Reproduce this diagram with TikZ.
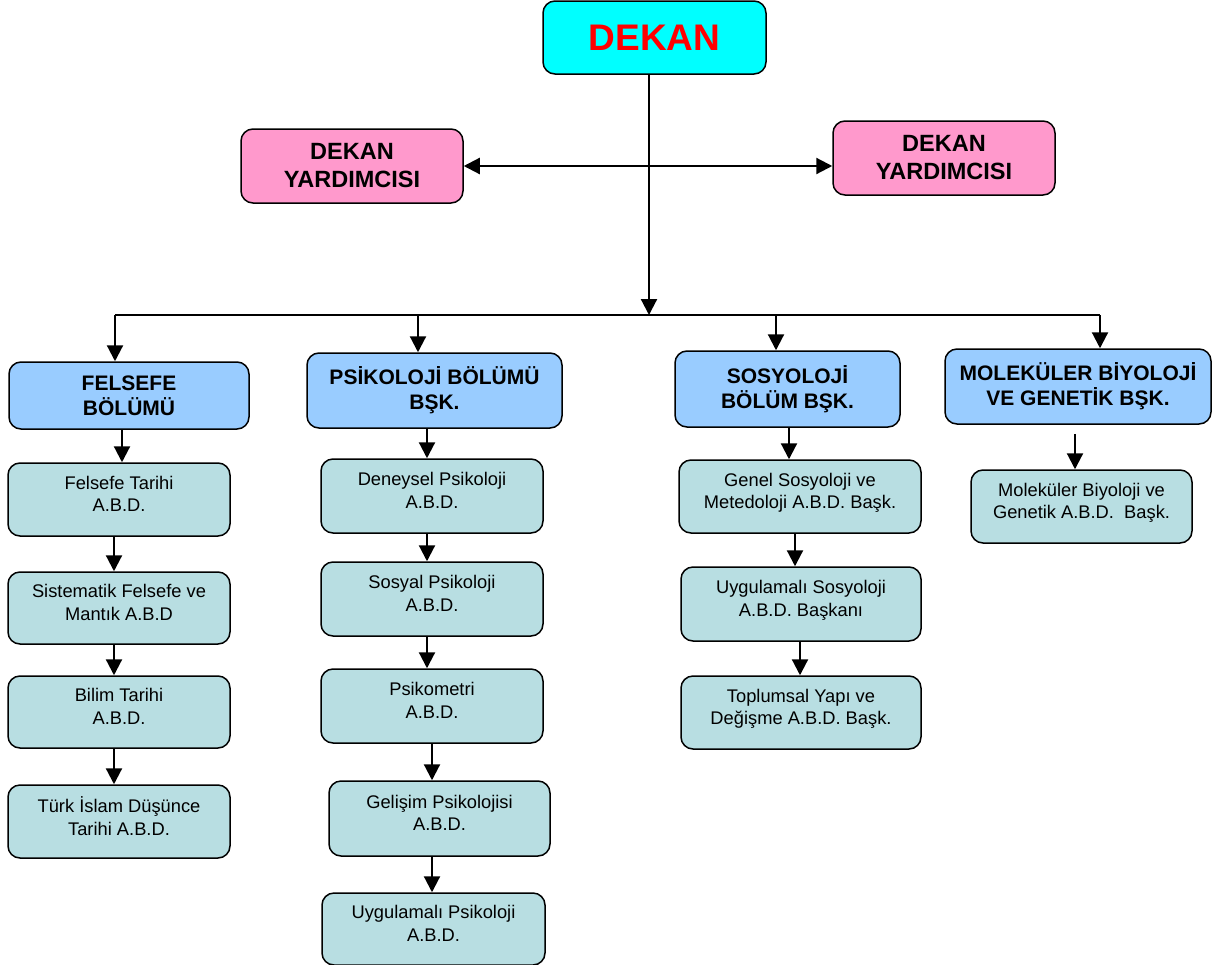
\documentclass[tikz,border=0pt]{standalone}
\usepackage{fontspec}
\setmainfont{Liberation Sans}
\usepackage{tikz}
\usetikzlibrary{arrows.meta,positioning}
\definecolor{Dekan}{RGB}{0,255,255}
\definecolor{Yardimci}{RGB}{255,153,204}
\definecolor{Bolum}{RGB}{153,204,255}
\definecolor{Abd}{RGB}{184,222,226}

\begin{document}
\begin{tikzpicture}[x=1pt,y=-1pt,
  kutu/.style={draw=black,line width=1.5pt,rounded corners=12pt,align=center,inner sep=0pt},
  dekanbox/.style={kutu,fill=Dekan,text=red,font=\fontsize{37}{40}\selectfont\bfseries},
  yardbox/.style={kutu,fill=Yardimci,font=\fontsize{23.5}{28}\selectfont\bfseries},
  bolumbox/.style={kutu,fill=Bolum,font=\fontsize{21}{25}\selectfont\bfseries},
  abdbox/.style={kutu,fill=Abd,minimum width=222,minimum height=73,text depth=11pt,font=\fontsize{18.3}{22.5}\selectfont},
  ok/.style={line width=2.2pt,-{Triangle[length=16pt,width=16pt]}},
  ciftok/.style={line width=2.2pt,{Triangle[length=16pt,width=16pt]}-{Triangle[length=16pt,width=16pt]}}]
\useasboundingbox (0,0) rectangle (1215,964);
% ust kisim
\node[dekanbox,minimum width=223,minimum height=73] (dekan) at (654.5,37.5) {DEKAN};
\node[yardbox,minimum width=222,minimum height=74] (yard1) at (352,166) {DEKAN\\YARDIMCISI};
\node[yardbox,minimum width=222,minimum height=74] (yard2) at (944,158) {DEKAN\\YARDIMCISI};
\coordinate (hub) at (649,315);
\coordinate (barL) at (115,315);
\coordinate (barR) at (1100,315);
\draw[ok] (dekan.south -| hub) -- (hub);
\draw[ciftok] (yard1.east) -- (yard1.east -| yard2.west);
\draw[line width=2.2pt] (barL) -- (barR);
%
% bolumler
\node[bolumbox,minimum width=240,minimum height=67] (fels) at (129,395.5) {FELSEFE\\BÖLÜMÜ};
\node[bolumbox,minimum width=255,minimum height=75] (psik) at (434.5,390.5) {PSİKOLOJİ BÖLÜMÜ\\BŞK.};
\node[bolumbox,minimum width=225,minimum height=76] (sos) at (787.5,389) {SOSYOLOJİ\\BÖLÜM BŞK.};
\node[bolumbox,minimum width=266,minimum height=75] (mol) at (1078,386.5) {MOLEKÜLER BİYOLOJİ\\VE GENETİK BŞK.};
\draw[ok] (barL) -- (barL |- fels.north);
\draw[ok] ([xshift=-16.5pt]psik.north |- barL) -- ([xshift=-16.5pt]psik.north);
\draw[ok] ([xshift=-11.5pt]sos.north |- barL) -- ([xshift=-11.5pt]sos.north);
\draw[ok] (barR) -- (barR |- mol.north);
%
% felsefe
\node[abdbox] (ft) at (119,499.5) {Felsefe Tarihi\\A.B.D.};
\node[abdbox,minimum height=72] (sf) at (119,608) {Sistematik Felsefe ve\\Mantık A.B.D};
\node[abdbox,minimum height=72] (bt) at (119,712) {Bilim Tarihi\\A.B.D.};
\node[abdbox] (ti) at (119,821.5) {Türk İslam Düşünce\\Tarihi A.B.D.};
\draw[ok] ([xshift=-7pt]fels.south) -- ([xshift=-7pt]fels.south |- ft.north);
\draw[ok] ([xshift=-5pt]ft.south) -- ([xshift=-5pt]sf.north);
\draw[ok] ([xshift=-5pt]sf.south) -- ([xshift=-5pt]bt.north);
\draw[ok] ([xshift=-5pt]bt.south) -- ([xshift=-5pt]ti.north);
%
% psikoloji
\node[abdbox,minimum height=74] (dp) at (432,496) {Deneysel Psikoloji\\A.B.D.};
\node[abdbox,minimum height=74] (sp) at (432,599) {Sosyal Psikoloji\\A.B.D.};
\node[abdbox,minimum height=74] (pm) at (432,706) {Psikometri\\A.B.D.};
\node[abdbox,minimum width=221,minimum height=75] (gp) at (439.5,818.5) {Gelişim Psikolojisi\\A.B.D.};
\node[abdbox,minimum width=223,minimum height=72] (up) at (433.5,929) {Uygulamalı Psikoloji\\A.B.D.};
\draw[ok] ([xshift=-7.5pt]psik.south) -- ([xshift=-7.5pt]psik.south |- dp.north);
\draw[ok] ([xshift=-5pt]dp.south) -- ([xshift=-5pt]sp.north);
\draw[ok] ([xshift=-5pt]sp.south) -- ([xshift=-5pt]pm.north);
\draw[ok] (pm.south) -- (pm.south |- gp.north);
\draw[ok] ([xshift=-7.5pt]gp.south) -- ([xshift=-7.5pt]gp.south |- up.north);
%
% sosyoloji
\node[abdbox,minimum width=242] (gs) at (800,496.5) {Genel Sosyoloji ve\\Metedoloji A.B.D. Başk.};
\node[abdbox,minimum width=240,minimum height=74] (us) at (801,604) {Uygulamalı Sosyoloji\\A.B.D. Başkanı};
\node[abdbox,minimum width=240] (ty) at (801,712.5) {Toplumsal Yapı ve\\Değişme A.B.D. Başk.};
\draw[ok] ([xshift=1.5pt]sos.south) -- ([xshift=1.5pt]sos.south |- gs.north);
\draw[ok] ([xshift=-5pt]gs.south) -- ([xshift=-5pt]gs.south |- us.north);
\draw[ok] ([xshift=-1pt]us.south) -- ([xshift=-1pt]ty.north);
%
% molekuler biyoloji
\node[abdbox,minimum width=221] (mg) at (1081.5,506.5) {Moleküler Biyoloji ve\\Genetik A.B.D.\ \ Başk.};
\draw[ok,shorten <=9pt] ([xshift=-3pt]mol.south) -- ([xshift=-3pt]mol.south |- mg.north);
%
\end{tikzpicture}
\end{document}
